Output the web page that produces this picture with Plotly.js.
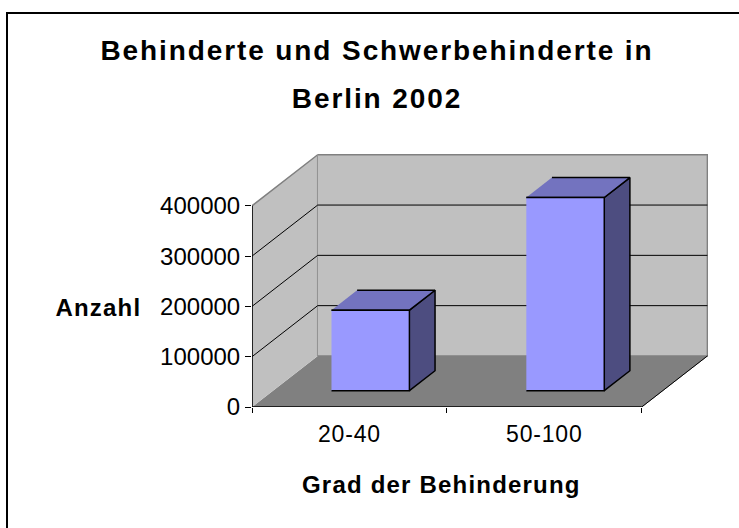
<!DOCTYPE html>
<html><head><meta charset="utf-8">
<script src="https://cdn.plot.ly/plotly-3.0.1.min.js"></script>
<style>
html,body{margin:0;padding:0;background:#fff;}
#chart{width:739px;height:528px;}
#chart .gtitle{letter-spacing:1.9px;}
#chart .annotation-text{letter-spacing:1.2px;}
#chart .xtick text{letter-spacing:0.8px;}
</style></head><body><div id="chart"></div>
<script>
// ---- data ----
const categories = ['20-40', '50-100'];
const counts = [160000, 384000];
const yTickValues = [0, 100000, 200000, 300000, 400000];
const yTickLabels = ['0', '100000', '200000', '300000', '400000'];
const titleText = 'Behinderte und Schwerbehinderte in<br>Berlin 2002';
const xTitle = 'Grad der Behinderung';
const yTitle = 'Anzahl';

// ---- geometry / style ----
const W = 739, H = 528, M = {l: 252, r: 31, t: 153, b: 121};
const plotW = W - M.l - M.r, plotH = H - M.t - M.b;
const pxPerX = 194.85, pxPerY = 50.3 / 100000;
const DX = 65.7 / pxPerX, DY = 101500;   // oblique depth offset
const F0 = 0.32, F1 = 0.71, BAR_W = 0.4;  // bar depth position and width
const n = categories.length;
const yMax = yTickValues[yTickValues.length - 1];
const FONT = 'Liberation Sans, Arial, Helvetica, sans-serif';
const px2x = p => (p - M.l) / plotW;
const px2y = p => (H - M.b - p) / plotH;

function poly(xs, ys, fill, lineColor, lw) {
  return {type: 'scatter', mode: 'lines', x: xs, y: ys, fill: 'toself', fillcolor: fill,
    line: {color: lineColor, width: lw}, hoverinfo: 'skip', showlegend: false};
}
function lines(xs, ys, color, lw) {
  return {type: 'scatter', mode: 'lines', x: xs, y: ys, line: {color: color, width: lw},
    hoverinfo: 'skip', showlegend: false, connectgaps: false};
}

const traces = [];
// floor
traces.push(poly([0, n, n + DX, DX], [0, 0, DY, DY], '#808080', '#808080', 1));
// side wall
traces.push(poly([0, 0, DX, DX], [0, yMax, yMax + DY, DY], '#c0c0c0', '#808080', 1.5));
// back wall
traces.push(poly([DX, n + DX, n + DX, DX], [DY, DY, yMax + DY, yMax + DY], '#c0c0c0', '#808080', 1.5));
// gridlines
const gx = [], gy = [];
yTickValues.forEach(v => {
  if (v > 0 && v < yMax) { gx.push(0, DX, n + DX, null); gy.push(v, v + DY, v + DY, null); }
});
traces.push(lines(gx, gy, '#000', 1));
// floor right edge
traces.push(lines([n, n + DX], [0, DY], '#000', 1));
// front axis lines
traces.push(lines([0, 0, n], [yMax, 0, 0], '#000', 1.5));
// bars
counts.forEach((v, i) => {
  const x0 = i + 0.5 - BAR_W / 2, x1 = x0 + BAR_W;
  const a = F0 * DX, b = F1 * DX, ya = F0 * DY, yb = F1 * DY;
  traces.push(poly([x1 + a, x1 + b, x1 + b, x1 + a], [ya, yb, v + yb, v + ya], '#4d4d80', '#000', 1.5));
  traces.push(poly([x0 + a, x1 + a, x1 + b, x0 + b], [v + ya, v + ya, v + yb, v + yb], '#7373bf', '#000', 1.5));
  traces.push(poly([x0 + a, x1 + a, x1 + a, x0 + a], [ya, ya, v + ya, v + ya], '#9999ff', '#000', 1.5));
});

const layout = {
  width: W, height: H, margin: M,
  paper_bgcolor: '#fff', plot_bgcolor: '#fff', showlegend: false, hovermode: false,
  title: {text: titleText, font: {family: FONT, size: 28, weight: 700, color: '#000'},
    x: 377 / W, xref: 'container', xanchor: 'center', y: 1 - 60 / H, yref: 'container', yanchor: 'top'},
  xaxis: {range: [0, plotW / pxPerX], tickvals: categories.map((c, i) => i + 0.5), ticktext: categories,
    ticks: '', showgrid: false, zeroline: false, showline: false, fixedrange: true,
    tickfont: {family: FONT, size: 23, color: '#000'}, ticklabelstandoff: 11,
    minor: {tickvals: categories.map((c, i) => i).concat([n]), ticks: 'outside', ticklen: 5,
      tickcolor: '#000', tickwidth: 1, showgrid: false}},
  yaxis: {range: [0, plotH / pxPerY], tickvals: yTickValues, ticktext: yTickLabels,
    ticks: 'outside', ticklen: 6, tickcolor: '#000', tickwidth: 1,
    showgrid: false, zeroline: false, showline: false, fixedrange: true,
    tickfont: {family: FONT, size: 24, color: '#000'}},
  annotations: [
    {text: yTitle, xref: 'paper', yref: 'paper', x: px2x(98.5), y: px2y(307.5), xanchor: 'center', yanchor: 'middle',
      showarrow: false, font: {family: FONT, size: 24, weight: 700, color: '#000'}},
    {text: xTitle, xref: 'paper', yref: 'paper', x: px2x(441.3), y: px2y(484), xanchor: 'center', yanchor: 'middle',
      showarrow: false, font: {family: FONT, size: 24, weight: 700, color: '#000'}}
  ],
  shapes: [
    {type: 'path', xref: 'paper', yref: 'paper', layer: 'above',
      path: 'M ' + px2x(7) + ' ' + px2y(540) + ' L ' + px2x(7) + ' ' + px2y(13) + ' L ' + px2x(760) + ' ' + px2y(13),
      line: {color: '#000', width: 2}}
  ]
};

Plotly.newPlot('chart', traces, layout, {displayModeBar: false, staticPlot: true}).then(gd => {
  const tl = gd.querySelectorAll('.gtitle tspan.line');
  if (tl.length > 1) tl[1].setAttribute('dy', '1.72em');
});
</script></body></html>
